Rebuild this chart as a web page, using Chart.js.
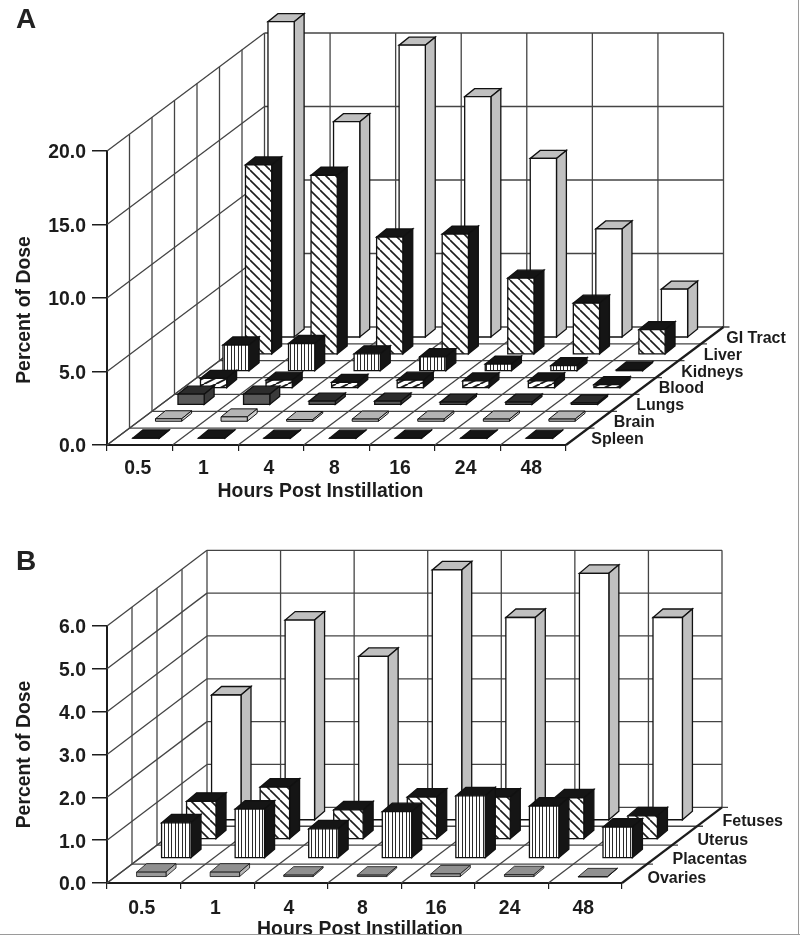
<!DOCTYPE html>
<html>
<head>
<meta charset="utf-8">
<style>
html,body{margin:0;padding:0;background:#fff;}
#page{position:relative;width:800px;height:935px;overflow:hidden;background:#fff;}
canvas{position:absolute;left:0;}
.panel{position:absolute;left:16px;font:bold 28px "Liberation Sans",Arial,sans-serif;color:#222;line-height:28px;}
#edgeR{position:absolute;left:798px;top:0;width:1px;height:935px;background:#9a9a9a;}
#edgeB{position:absolute;left:0;top:934px;width:800px;height:1px;background:#9a9a9a;}
</style>
<script src="https://cdn.jsdelivr.net/npm/chart.js@4/dist/chart.umd.min.js"></script>
</head>
<body>
<div id="page">
<canvas id="chartA" width="800" height="510" style="top:0"></canvas>
<canvas id="chartB" width="800" height="425" style="top:510px"></canvas>
<div class="panel" style="top:5px">A</div>
<div class="panel" style="top:547px">B</div>
<div id="edgeR"></div><div id="edgeB"></div>
</div>
<script>
const hours = ["0.5","1","4","8","16","24","48"];

const seriesNamesA = ["Spleen","Brain","Lungs","Blood","Kidneys","Liver","GI Tract"];
const spleen  = [0.06,0.06,0.05,0.05,0.05,0.05,0.05];
const brain   = [0.22,0.35,0.17,0.2,0.2,0.2,0.2];
const lungs   = [0.75,0.75,0.27,0.27,0.2,0.2,0.15];
const blood   = [0.68,0.55,0.4,0.55,0.5,0.5,0.25];
const kidneys = [1.8,1.9,1.2,1.0,0.5,0.4,0.1];
const liver   = [12.9,12.2,8.0,8.2,5.2,3.5,1.7];
const giTract = [21.5,14.7,19.9,16.4,12.2,7.4,3.3];

const seriesNamesB = ["Ovaries","Placentas","Uterus","Fetuses"];
const ovaries   = [0.12,0.12,0.05,0.05,0.08,0.06,0.01];
const placentas = [0.83,1.15,0.69,1.09,1.46,1.22,0.73];
const uterus    = [0.89,1.22,0.69,0.99,0.99,0.97,0.55];
const fetuses   = [2.93,4.68,3.83,5.85,4.74,5.77,4.74];

const INK = "#1c1c1c", GRID = "#444444";
const FONT = '"Liberation Sans", Arial, sans-serif';

function tile(w, h, paint) {
  const c = document.createElement("canvas");
  c.width = w; c.height = h;
  const g = c.getContext("2d");
  g.fillStyle = "#fff"; g.fillRect(0, 0, w, h);
  g.strokeStyle = INK;
  paint(g);
  return g.createPattern(c, "repeat");
}
function diag(g, w, h, lw, back) {
  g.lineWidth = lw;
  for (let o = -w; o <= w; o += w) {
    g.beginPath();
    if (back) { g.moveTo(o, 0); g.lineTo(o + w, h); }
    else { g.moveTo(o, h); g.lineTo(o + w, 0); }
    g.stroke();
  }
}
const backHatch = tile(10, 10, g => diag(g, 10, 10, 1.6, true));
const fwdHatch = tile(12, 6, g => diag(g, 12, 6, 1.9, false));
const stripes = tile(7, 4, g => { g.fillStyle = "#2a2a2a"; g.fillRect(0, 0, 1, 4); g.fillRect(3, 0, 1, 4); });

const solid = (face, top, side, lw) => ({ face, top, side, lw: lw || 1.3 });
const stylesA = [
  solid("#151515", "#151515", "#151515"),
  solid("#c0c0c0", "#b4b4b4", "#d0d0d0", 1),
  solid("#5a5a5a", "#2c2c2c", "#3a3a3a"),
  solid(fwdHatch, "#151515", "#151515"),
  solid(stripes, "#151515", "#151515"),
  solid(backHatch, "#151515", "#151515"),
  solid("#ffffff", "#c0c0c0", "#c0c0c0")
];
const stylesB = [
  solid("#999999", "#909090", "#b8b8b8", 0.8),
  solid(stripes, "#151515", "#151515"),
  solid(backHatch, "#151515", "#151515"),
  solid("#ffffff", "#c0c0c0", "#c0c0c0")
];

function line(ctx, x1, y1, x2, y2) {
  ctx.beginPath(); ctx.moveTo(x1, y1); ctx.lineTo(x2, y2); ctx.stroke();
}
function poly(ctx, pts, fill) {
  ctx.beginPath();
  pts.forEach((p, i) => i ? ctx.lineTo(p[0], p[1]) : ctx.moveTo(p[0], p[1]));
  ctx.closePath();
  ctx.fillStyle = fill; ctx.fill(); ctx.stroke();
}

const view3d = {
  id: "view3d",
  beforeDatasetsDraw(chart, args, o) {
    const ctx = chart.ctx, xs = chart.scales.x, ys = chart.scales.y;
    const n = chart.data.datasets.length, cats = chart.data.labels.length;
    const { left: L, right: R } = chart.chartArea;
    const y0 = ys.getPixelForValue(ys.min), yT = ys.getPixelForValue(ys.max);
    const stepX = (R - L) / cats;
    const dx = o.dx / n, dy = o.dy / n;
    ctx.save();
    ctx.strokeStyle = GRID; ctx.lineWidth = 1.3;
    ys.ticks.forEach(t => {
      const y = ys.getPixelForValue(t.value);
      line(ctx, L, y, L + o.dx, y - o.dy);
      if (t.value > ys.min) line(ctx, L + o.dx, y - o.dy, R + o.dx, y - o.dy);
    });
    for (let k = 1; k <= n; k++) line(ctx, L + k * dx, y0 - k * dy, L + k * dx, yT - k * dy);
    for (let i = 1; i <= cats; i++) line(ctx, L + i * stepX + o.dx, y0 - o.dy, L + i * stepX + o.dx, yT - o.dy);
    for (let k = 1; k <= n; k++) line(ctx, L + k * dx, y0 - k * dy, R + k * dx + 6, y0 - k * dy);
    for (let i = 1; i < cats; i++) line(ctx, L + i * stepX, y0, L + i * stepX + o.dx, y0 - o.dy);
    line(ctx, L, y0, L + o.dx, y0 - o.dy);
    ctx.lineWidth = 2.2; ctx.strokeStyle = INK;
    line(ctx, R, y0, R + o.dx, y0 - o.dy);

    ctx.fillStyle = INK; ctx.textBaseline = "middle"; ctx.textAlign = "left";
    ctx.font = "bold 16px " + FONT;
    chart.data.datasets.forEach((d, k) => {
      ctx.fillText(d.label, R + (k + 0.5) * dx + o.labelDx, y0 - (k + 0.5) * dy + o.labelDy);
    });
    ctx.font = "bold 19.4px " + FONT; ctx.textAlign = "center";
    ctx.fillText(o.xTitle, (L + R) / 2 + o.xTitleDx, y0 + o.xTitleDy);
    ctx.save();
    ctx.translate(25, (y0 + yT) / 2 + o.yTitleDy);
    ctx.rotate(-Math.PI / 2);
    ctx.fillText(o.yTitle, 0, 0);
    ctx.restore();
    ctx.restore();
  },
  beforeDatasetDraw(chart, args, o) {
    const ctx = chart.ctx, k = args.index, n = chart.data.datasets.length;
    const st = o.styles[k];
    const dx = o.dx / n, dy = o.dy / n;
    const ox = (k + 0.5) * dx, oy = (k + 0.5) * dy;
    const bx = dx * o.barDepth, by = o.barRise;
    ctx.save();
    ctx.strokeStyle = "#111"; ctx.lineWidth = st.lw; ctx.lineJoin = "miter";
    args.meta.data.forEach(el => {
      const hw = el.width / 2;
      const x1 = el.x + ox - bx / 2 - hw, x2 = x1 + el.width;
      const b = el.base - oy + by / 2 + o.baseShift, t = el.y - oy + by / 2 + o.baseShift;
      poly(ctx, [[x1, t], [x2, t], [x2 + bx, t - by], [x1 + bx, t - by]], st.top);
      poly(ctx, [[x2, t], [x2 + bx, t - by], [x2 + bx, b - by], [x2, b]], st.side);
      poly(ctx, [[x1, t], [x2, t], [x2, b], [x1, b]], st.face);
    });
    ctx.restore();
    return false;
  }
};

function build(id, names, arrays, styles, geo) {
  new Chart(document.getElementById(id), {
    type: "bar",
    data: {
      labels: hours,
      datasets: names.map((label, i) => ({ label, data: arrays[i], backgroundColor: "rgba(0,0,0,0)" }))
    },
    plugins: [view3d],
    options: {
      responsive: false, animation: false, devicePixelRatio: 1,
      layout: { padding: { left: 0, right: geo.right, top: geo.top, bottom: 0 } },
      datasets: { bar: { barPercentage: 0.4, categoryPercentage: 1, grouped: false } },
      plugins: {
        legend: { display: false }, tooltip: { enabled: false },
        view3d: Object.assign({ styles, xTitle: "Hours Post Instillation", yTitle: "Percent of Dose" }, geo.view)
      },
      scales: {
        x: {
          afterFit(s) { s.height = geo.bottom; },
          border: { display: true, color: INK, width: 2 },
          grid: { display: true, drawOnChartArea: false, drawTicks: true, tickLength: 6, color: INK, lineWidth: 1.2 },
          ticks: { font: { family: FONT, weight: "bold", size: 19.4 }, color: INK, padding: geo.xPad, labelOffset: -2, maxRotation: 0 }
        },
        y: {
          min: 0, max: geo.max,
          afterFit(s) { s.width = 107; },
          border: { display: true, color: INK, width: 2 },
          grid: { display: true, drawOnChartArea: false, drawTicks: true, tickLength: 15, color: INK, lineWidth: 1.5 },
          ticks: { stepSize: geo.step, font: { family: FONT, weight: "bold", size: 19.4 }, color: INK, padding: 6, labelOffset: 2, callback: v => v.toFixed(1) }
        }
      }
    }
  });
}

build("chartA", seriesNamesA, [spleen, brain, lungs, blood, kidneys, liver, giTract], stylesA, {
  right: 234, top: 151, bottom: 65, max: 20, step: 5, xPad: 6,
  view: { dx: 157.5, dy: 118, barDepth: 0.44, barRise: 8, baseShift: -1.7, labelDx: 14, labelDy: 3, xTitleDx: -16, xTitleDy: 47, yTitleDy: 12 }
});
build("chartB", seriesNamesB, [ovaries, placentas, uterus, fetuses], stylesB, {
  right: 178, top: 116, bottom: 52, max: 6, step: 1, xPad: 8,
  view: { dx: 100, dy: 75.7, barDepth: 0.4, barRise: 8.5, baseShift: -0.5, labelDx: 13, labelDy: 5, xTitleDx: -4.5, xTitleDy: 47, yTitleDy: 0 }
});
</script>
</body>
</html>
